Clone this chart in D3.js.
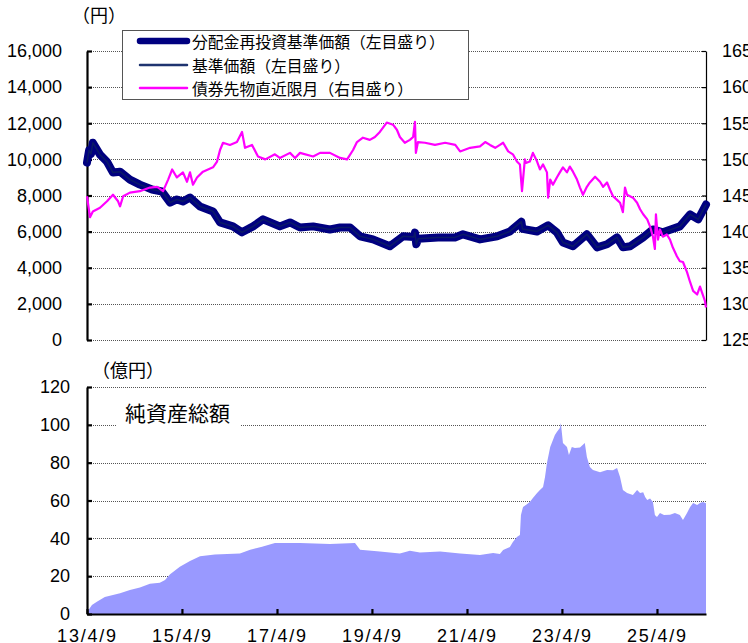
<!DOCTYPE html>
<html><head><meta charset="utf-8">
<script src="https://cdn.jsdelivr.net/npm/d3@7"></script>
<style>
body{margin:0;background:#fff}
svg{display:block}
.num{font-family:"Liberation Sans",Arial,sans-serif;font-size:18px;fill:#000}
.jp{font-family:"Noto Sans CJK JP","Noto Sans",sans-serif;fill:#000}
</style>
</head><body>
<svg id="c" width="748" height="643"></svg>
<script>
// ---- data ----
const navDates = ["2013-04-09","2013-04-25","2013-05-10","2013-05-24","2013-07-18","2013-09-10","2013-10-26","2013-12-19","2014-03-05","2014-05-21","2014-08-22","2014-11-07","2015-01-08","2015-03-01","2015-04-17","2015-06-10","2015-08-26","2015-12-04","2016-01-27","2016-05-05","2016-07-14","2016-10-07","2016-12-23","2017-05-01","2017-07-18","2017-10-03","2018-01-12","2018-05-21","2018-08-07","2018-10-23","2019-01-08","2019-04-17","2019-08-25","2019-12-04","2020-02-25","2020-03-05","2020-03-15","2020-03-30","2020-08-29","2021-01-07","2021-03-09","2021-07-18","2021-11-27","2022-03-05","2022-06-01","2022-06-10","2022-09-30","2022-12-24","2023-03-01","2023-04-17","2023-07-03","2023-10-18","2024-01-04","2024-03-21","2024-06-06","2024-07-21","2024-09-15","2024-12-24","2025-03-09","2025-05-24","2025-10-02","2025-12-20","2026-02-20","2026-04-21"];
const navValues = [9820,10500,10300,10920,10260,9870,9270,9320,8880,8600,8330,8220,7610,7780,7670,7890,7390,7120,6510,6290,5960,6290,6680,6290,6510,6230,6290,6120,6230,6230,5740,5570,5190,5740,5700,5950,5300,5600,5680,5680,5850,5570,5740,6010,6550,6150,6010,6350,5960,5400,5190,5850,5130,5300,5680,5130,5190,5680,6120,5960,6290,6950,6680,7500];
// 基準価額 (no distributions: same path as reinvested NAV)
const basePriceValues = navValues.slice();

const bondDates = ["2013-04-09","2013-05-02","2013-05-24","2013-07-18","2013-09-10","2013-10-26","2013-12-04","2013-12-19","2014-01-12","2014-03-05","2014-05-21","2014-08-06","2014-09-30","2014-11-15","2014-12-24","2015-01-24","2015-03-01","2015-04-17","2015-05-18","2015-06-10","2015-07-03","2015-08-03","2015-09-18","2015-12-04","2016-01-04","2016-01-27","2016-02-19","2016-04-12","2016-06-05","2016-07-14","2016-08-06","2016-09-29","2016-11-14","2017-01-09","2017-03-24","2017-05-01","2017-07-18","2017-08-26","2017-10-03","2018-01-12","2018-03-06","2018-05-21","2018-08-07","2018-09-30","2018-11-15","2018-12-15","2019-01-30","2019-03-24","2019-05-02","2019-06-09","2019-08-01","2019-09-18","2019-10-18","2019-11-10","2019-12-18","2020-01-26","2020-02-20","2020-03-05","2020-03-12","2020-03-28","2020-05-21","2020-08-06","2020-10-23","2021-01-09","2021-02-15","2021-05-03","2021-07-18","2021-08-27","2021-10-03","2021-11-12","2021-12-18","2022-01-12","2022-02-20","2022-03-28","2022-04-28","2022-05-21","2022-06-06","2022-06-28","2022-07-06","2022-08-05","2022-08-29","2022-09-30","2022-10-22","2022-11-15","2022-12-15","2022-12-24","2023-01-09","2023-01-30","2023-03-01","2023-03-24","2023-04-17","2023-05-18","2023-06-09","2023-07-03","2023-08-03","2023-08-26","2023-09-18","2023-10-18","2023-11-10","2023-12-20","2024-01-27","2024-02-20","2024-03-21","2024-04-13","2024-05-06","2024-06-06","2024-06-29","2024-07-21","2024-08-06","2024-08-22","2024-10-06","2024-11-07","2024-11-30","2024-12-24","2025-01-24","2025-02-15","2025-03-09","2025-03-24","2025-04-01","2025-04-17","2025-05-02","2025-05-24","2025-06-24","2025-07-18","2025-08-09","2025-09-09","2025-10-02","2025-10-26","2025-11-26","2025-12-20","2026-01-12","2026-02-12","2026-03-06","2026-03-21","2026-04-13","2026-04-21"];
const bondValues = [144.9,142.0,142.8,143.3,144.2,145.1,144.2,143.5,144.9,145.4,145.6,146.1,146.2,145.6,147.2,148.6,147.5,148.2,146.9,148.2,146.5,147.5,148.3,148.9,149.7,151.3,152.3,152.0,152.4,153.8,151.6,152.0,150.4,150.0,150.7,150.2,150.9,150.2,150.9,150.4,150.9,150.9,150.2,150.0,151.3,152.4,153.0,152.7,153.1,153.8,155.1,154.8,154.1,153.1,152.3,152.7,153.1,155.2,150.9,152.4,152.3,152.0,152.3,152.0,151.1,151.6,151.8,152.4,152.0,151.6,152.0,152.3,151.1,150.7,149.7,149.3,145.6,150.0,149.5,149.7,150.9,149.7,148.6,149.3,148.2,144.7,147.2,146.5,147.5,148.2,148.9,148.2,149.0,148.3,147.2,146.1,145.1,146.2,146.8,147.6,146.9,146.2,146.8,145.8,144.9,144.4,144.0,142.7,146.1,145.1,144.7,144.0,143.1,142.4,141.7,140.7,139.3,137.6,142.4,138.9,140.3,139.3,139.6,138.9,137.8,136.6,135.9,135.8,134.4,133.0,131.8,131.3,132.4,131.6,130.4,129.5];

const assetDates = ["2013-04-09","2013-04-25","2013-05-17","2013-06-24","2013-08-24","2013-12-19","2014-03-05","2014-05-21","2014-08-06","2014-10-21","2014-11-30","2015-01-08","2015-03-24","2015-06-10","2015-08-26","2015-12-18","2016-06-28","2016-09-15","2016-12-15","2017-03-24","2017-10-03","2018-05-21","2018-11-30","2019-01-08","2019-06-09","2019-11-10","2020-01-26","2020-04-12","2020-09-15","2021-02-15","2021-07-18","2021-10-27","2021-12-18","2022-01-12","2022-03-05","2022-03-28","2022-04-28","2022-05-21","2022-05-29","2022-06-14","2022-07-06","2022-08-05","2022-08-29","2022-09-30","2022-10-22","2022-11-15","2022-11-30","2022-12-15","2023-01-09","2023-01-30","2023-02-14","2023-03-01","2023-03-24","2023-04-01","2023-04-09","2023-04-17","2023-05-18","2023-06-02","2023-06-24","2023-07-18","2023-08-26","2023-10-02","2023-10-18","2023-11-10","2023-12-04","2024-01-27","2024-03-21","2024-05-06","2024-06-06","2024-06-29","2024-07-21","2024-08-22","2024-10-06","2024-11-07","2024-11-30","2024-12-24","2025-01-08","2025-01-24","2025-02-15","2025-03-09","2025-03-24","2025-04-09","2025-05-02","2025-06-02","2025-07-18","2025-08-25","2025-10-02","2025-10-26","2025-11-26","2025-12-20","2026-01-12","2026-02-12","2026-03-06","2026-03-28","2026-04-21"];
const assetValues = [0.5,2.5,4.8,6.5,9,11,12.7,14,16,16.5,18,21,25,28,30.5,31.5,32,34,35.5,37.5,37.5,37,37.5,34,33,32,33.5,32.5,33,32,31.2,32.2,31.7,33.8,35.4,38,40.7,41.8,52.3,56.6,57.6,59.2,61.3,63.9,65.5,67.1,72.4,79.8,88.3,92,94.6,96.2,98.3,101,95.7,90.4,88.3,84,88.3,87.7,88,90.4,83,77.7,76.1,75,76.1,76,77.2,72.4,65.5,63.9,62.9,65.5,64,64.4,61.8,60.3,61,59.2,52.3,51.3,53.4,52.3,52.5,53.4,52.3,49.7,53.4,56.6,58.7,57.6,58.7,59.2,58.5];

const leftTicks = [0,2000,4000,6000,8000,10000,12000,14000,16000];
const rightTicks = [125,130,135,140,145,150,155,160,165];
const assetTicks = [0,20,40,60,80,100,120];
const xTickDates = ["2013-04-09","2015-04-09","2017-04-09","2019-04-09","2021-04-09","2023-04-09","2025-04-09"];
const legendLabels = ["分配金再投資基準価額（左目盛り）","基準価額（左目盛り）","債券先物直近限月（右目盛り）"];
const topUnit = "（円）", bottomUnit = "（億円）", assetTitle = "純資産総額";

// ---- scales ----
const parse = d3.timeParse("%Y-%m-%d");
const svg = d3.select("#c");
const X0 = 87, X1 = 706;
const x = d3.scaleTime().domain([parse("2013-04-09"), parse("2026-04-21")]).range([X0, X1]);
const yL = d3.scaleLinear().domain([0,16000]).range([340,51]);
const yR = d3.scaleLinear().domain([125,165]).range([340,51]);
const yA = d3.scaleLinear().domain([0,120]).range([614,387]);

const nav = navDates.map((d,i)=>({d:parse(d), v:navValues[i]}));
const base = navDates.map((d,i)=>({d:parse(d), v:basePriceValues[i]}));
const bond = bondDates.map((d,i)=>({d:parse(d), v:bondValues[i]}));
const asset = assetDates.map((d,i)=>({d:parse(d), v:assetValues[i]}));

// ---- top chart gridlines ----
const grid = svg.append("g");
grid.selectAll("line.gt").data(leftTicks).join("line")
  .attr("x1",X0).attr("x2",X1).attr("y1",d=>Math.round(yL(d))+0.5).attr("y2",d=>Math.round(yL(d))+0.5)
  .attr("stroke","#555").attr("stroke-width",1).attr("stroke-dasharray","1,1");

// left axis
const axL = svg.append("g").attr("transform",`translate(${X0},0)`)
  .call(d3.axisLeft(yL).tickValues(leftTicks).tickFormat(d3.format(",")).tickSizeInner(-5).tickSizeOuter(0).tickPadding(25));
axL.select(".domain").attr("stroke","#000").attr("stroke-width",2.2);
axL.selectAll(".tick line").attr("stroke","#000").attr("stroke-width",2.2);
axL.selectAll("text").attr("class","num").attr("font-size",null).attr("font-family",null);

// right axis
const axR = svg.append("g").attr("transform",`translate(${X1},0)`)
  .call(d3.axisRight(yR).tickValues(rightTicks).tickSizeInner(-4).tickSizeOuter(0).tickPadding(16));
axR.select(".domain").attr("stroke","#000").attr("stroke-width",1.2);
axR.selectAll(".tick line").attr("stroke","#000").attr("stroke-width",1.2);
axR.selectAll("text").attr("class","num").attr("font-size",null).attr("font-family",null);

// legend
const lg = svg.append("g");
lg.append("rect").attr("x",122.5).attr("y",30.5).attr("width",346).attr("height",69)
  .attr("fill","#fff").attr("stroke","#555").attr("stroke-width",1);
const legendStyles = [{c:"#000080",w:6.5},{c:"#1f3470",w:2.5},{c:"#ff00ff",w:2.5}];
const legendY = [41,65,88];
legendLabels.forEach((t,i)=>{
  lg.append("line").attr("x1",140).attr("x2",187).attr("y1",legendY[i]).attr("y2",legendY[i])
    .attr("stroke",legendStyles[i].c).attr("stroke-width",legendStyles[i].w).attr("stroke-linecap","round");
  lg.append("text").attr("class","jp").attr("x",192).attr("y",legendY[i]).attr("dominant-baseline","central")
    .attr("font-size",15.8).text(t);
});

// lines
const lineL = d3.line().x(d=>x(d.d)).y(d=>yL(d.v));
const lineR = d3.line().x(d=>x(d.d)).y(d=>yR(d.v));
svg.append("path").datum(nav).attr("d",lineL).attr("fill","none").attr("stroke","#000080")
  .attr("stroke-width",8).attr("stroke-linejoin","round").attr("stroke-linecap","round");
svg.append("path").datum(base).attr("d",lineL).attr("fill","none").attr("stroke","#0a1a66")
  .attr("stroke-width",1.5).attr("stroke-linejoin","round");
svg.append("path").datum(bond).attr("d",lineR).attr("fill","none").attr("stroke","#ff00ff")
  .attr("stroke-width",2.2).attr("stroke-linejoin","round");

// top unit
svg.append("text").attr("class","jp").attr("x",72).attr("y",14).attr("dominant-baseline","central")
  .attr("font-size",18).text(topUnit);

// ---- bottom chart ----
svg.append("g").selectAll("line").data(assetTicks.filter(d=>d>0)).join("line")
  .attr("x1",X0).attr("x2",X1).attr("y1",d=>Math.round(yA(d))+0.5).attr("y2",d=>Math.round(yA(d))+0.5)
  .attr("stroke","#555").attr("stroke-width",1).attr("stroke-dasharray","1,1");

const area = d3.area().x(d=>x(d.d)).y0(yA(0)).y1(d=>yA(d.v));
svg.append("path").datum(asset).attr("d",area).attr("fill","#9999ff");

const axA = svg.append("g").attr("transform",`translate(${X0},0)`)
  .call(d3.axisLeft(yA).tickValues(assetTicks).tickSizeInner(-5).tickSizeOuter(0).tickPadding(17));
axA.select(".domain").attr("stroke","#000").attr("stroke-width",2.2);
axA.selectAll(".tick line").attr("stroke","#000").attr("stroke-width",2.2);
axA.selectAll("text").attr("class","num").attr("font-size",null).attr("font-family",null);

const axX = svg.append("g").attr("transform",`translate(0,614)`)
  .call(d3.axisBottom(x).tickValues(xTickDates.map(parse)).tickFormat(d3.timeFormat("%y/%-m/%-d"))
    .tickSizeInner(-5).tickSizeOuter(0).tickPadding(15));
axX.select(".domain").attr("stroke","#000").attr("stroke-width",2.2);
axX.selectAll(".tick line").attr("stroke","#000").attr("stroke-width",2.2);
axX.selectAll("text").attr("class","num").attr("font-size",null).attr("font-family",null)
  .attr("letter-spacing","1.8px");

// asset title with white box
svg.append("rect").attr("x",117).attr("y",400).attr("width",123).attr("height",26).attr("fill","#fff");
svg.append("text").attr("class","jp").attr("x",125).attr("y",412).attr("dominant-baseline","central")
  .attr("font-size",21).text(assetTitle);

svg.append("text").attr("class","jp").attr("x",92).attr("y",369).attr("dominant-baseline","central")
  .attr("font-size",18).text(bottomUnit);
</script>
</body></html>
